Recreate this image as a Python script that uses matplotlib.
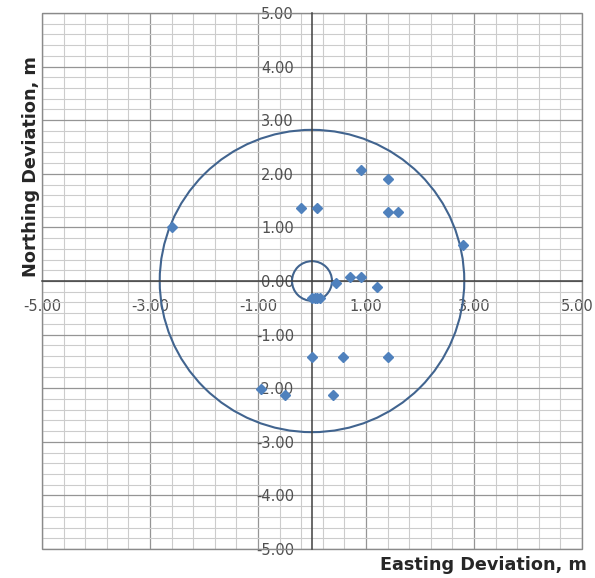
import numpy as np
import matplotlib.pyplot as plt
import matplotlib.transforms as mtransforms
from matplotlib.patches import Circle, Rectangle
from matplotlib.ticker import FormatStrFormatter

# deviation of each surveyed point, metres
east = [0.9, 1.4, -0.2, 0.1, 1.4, 1.6, -2.6, 2.8, 0.45, 0.7, 0.9, 1.2,
        0.0, 0.05, 0.1, 0.15, 0.0, 0.58, 1.4, -0.5, -0.95, 0.38]
north = [2.08, 1.9, 1.37, 1.37, 1.28, 1.28, 1.0, 0.68, -0.03, 0.08, 0.08, -0.12,
         -0.32, -0.32, -0.32, -0.32, -1.42, -1.42, -1.42, -2.12, -2.02, -2.12]

# tolerance circles
circle_radii = [2.82, 0.37]

x_ticks = [-5, -3, -1, 1, 3, 5]
y_ticks = [-5, -4, -3, -2, -1, 0, 1, 2, 3, 4, 5]

plt.rcParams['font.family'] = ['DejaVu Sans']

fig = plt.figure(figsize=(5.95, 5.78), dpi=100)
ax = fig.add_axes([42 / 595, 1 - 549 / 578, 540 / 595, 536 / 578])
ax.set_xlim(-5, 5)
ax.set_ylim(-5, 5)

# grid like the excel sheet
ax.set_xticks(x_ticks)
ax.set_yticks(y_ticks)
ax.set_xticks(np.arange(-5, 5.01, 0.4), minor=True)
ax.set_yticks(np.arange(-5, 5.01, 0.2), minor=True)
ax.grid(which='minor', color='#cccccc', lw=0.8, zorder=0)
ax.grid(which='major', color='#959595', lw=0.9, zorder=0)
ax.set_axisbelow(True)

ax.xaxis.set_major_formatter(FormatStrFormatter('%.2f'))
ax.yaxis.set_major_formatter(FormatStrFormatter('%.2f'))
ax.tick_params(which='minor', length=0)
ax.tick_params(axis='x', which='major', length=0, pad=13, labelsize=10.5, labelcolor='#505050')
ax.tick_params(axis='y', which='major', length=0, pad=13, labelsize=10.5, labelcolor='#505050')

for side in ['top', 'right']:
    ax.spines[side].set_visible(False)
for side in ['left', 'bottom']:
    ax.spines[side].set_position(('data', 0))
    ax.spines[side].set_color('#404040')
    ax.spines[side].set_linewidth(1.1)
ax.add_patch(Rectangle((0, 0), 1, 1, transform=ax.transAxes, fill=False,
                       ec='#8a8a8a', lw=1.0, clip_on=False))

for r in circle_radii:
    ax.add_patch(Circle((0, 0), r, fill=False, ec='#41648f', lw=1.5, zorder=2))

ax.plot(east, north, 'D', color='#4f81bd', ms=5.2, zorder=3)

fig.text(31 / 595, 1 - 167 / 578, 'Northing Deviation, m', rotation=90,
         ha='center', va='center', fontsize=12.7, fontweight='bold', color='#262626')
fig.text(587 / 595, 1 - 565 / 578, 'Easting Deviation, m',
         ha='right', va='center', fontsize=12.7, fontweight='bold', color='#262626')

# keep the last x label inside the canvas
fig.canvas.draw()
last = ax.get_xticklabels()[-1]
last.set_transform(last.get_transform() + mtransforms.ScaledTranslation(-5 / 100, 0, fig.dpi_scale_trans))

fig.savefig('out.png', dpi=100)
